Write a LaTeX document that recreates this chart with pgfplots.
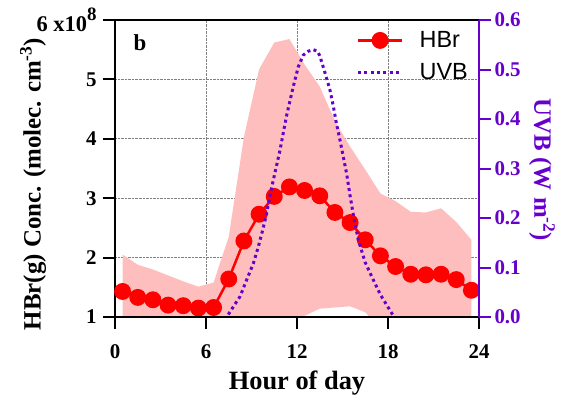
\documentclass[border=0pt]{standalone}
\usepackage{fontspec}
\setmainfont{Liberation Serif}
\newfontfamily\arialfont{Liberation Sans}
\usepackage{pgfplots}
\pgfplotsset{compat=1.18}
\usepackage{pgfplotstable}

\definecolor{uvbcol}{RGB}{102,0,204}
\definecolor{bandcol}{RGB}{255,190,190}

% hourly mean HBr (1e8 molec cm-3)
\pgfplotstableread{
hour hbr
0.5 1.43
1.5 1.33
2.5 1.29
3.5 1.20
4.5 1.19
5.5 1.15
6.5 1.16
7.5 1.64
8.5 2.28
9.5 2.73
10.5 3.03
11.5 3.19
12.5 3.13
13.5 3.04
14.5 2.76
15.5 2.59
16.5 2.30
17.5 2.03
18.5 1.85
19.5 1.72
20.5 1.71
21.5 1.72
22.5 1.63
23.5 1.45
}\hbrdata

% spread: upper edge forward, lower edge back
\pgfplotstableread{
hour v
0.5 2.05
1.5 1.88
2.5 1.80
3.5 1.70
4.5 1.60
5.5 1.51
6.5 1.58
7.5 2.35
8.5 4.03
9.5 5.17
10.5 5.62
11.5 5.68
12.5 5.25
13.5 4.88
14.5 4.30
15.5 3.87
16.5 3.48
17.5 3.08
18.5 2.95
19.5 2.77
20.5 2.76
21.5 2.83
22.5 2.60
23.5 2.30
23.5 0.80
22.5 0.80
21.5 0.80
20.5 0.80
19.5 0.80
18.5 0.80
17.5 0.80
16.5 1.08
15.5 1.18
14.5 1.16
13.5 1.14
12.5 1.02
11.5 0.80
10.5 0.80
9.5 0.80
8.5 0.80
7.5 0.80
6.5 0.80
5.5 0.80
4.5 0.80
3.5 0.80
2.5 0.80
1.5 0.80
0.5 0.80
}\banddata

% UVB (W m-2)
\pgfplotstableread{
hour uvb
7.47 0.005
8.00 0.030
8.24 0.041
8.68 0.075
9.12 0.108
9.45 0.142
9.74 0.176
10.00 0.209
10.20 0.243
10.44 0.277
10.88 0.337
11.30 0.405
11.75 0.465
12.08 0.505
12.41 0.529
12.75 0.537
13.07 0.540
13.35 0.537
13.50 0.528
13.84 0.494
14.17 0.459
14.40 0.425
14.60 0.391
14.83 0.358
15.05 0.324
15.27 0.290
15.50 0.245
15.75 0.200
16.04 0.156
16.50 0.110
17.03 0.075
17.50 0.045
18.00 0.020
18.30 0.005
}\uvbdata

\pgfplotsset{
  common/.style={
    scale only axis, width=364bp, height=297bp,
    xmin=0, xmax=24,
    axis line style={line width=2.5bp},
    tick align=outside, major tick length=12bp,
    tick style={line width=2bp},
    tick label style={font=\fontsize{21}{24}\selectfont\bfseries},
    /pgf/number format/assume math mode=true,
    label style={font=\fontsize{26.5}{30}\selectfont\bfseries},
  }
}

\begin{document}
\begin{tikzpicture}
\begin{axis}[common, name=main,
  ymin=1, ymax=6,
  axis x line*=bottom, axis y line*=left,
  xtick={0,6,12,18,24}, xticklabels={0,6,12,18,24},
  xticklabel style={yshift=-12bp},
  ytick={1,2,3,4,5,6},
  yticklabels={1,2,3,4,5,{\fontsize{22.5}{24}\selectfont 6 x10\raisebox{0.5em}{\fontsize{19}{20}\selectfont 8}}},
  yticklabel style={xshift=-3bp},
  tick style={black},
  grid=major,
  major grid style={densely dotted, gray, line width=0.7bp},
  xlabel={Hour of day},
  xlabel style={at={(axis description cs:0.5,-0.222)}, anchor=center},
  ylabel={HBr(g) Conc. (molec. cm\textsuperscript{-3})},
  ylabel style={at={(axis description cs:-0.225,0.448)}, anchor=center,
    font=\fontsize{25}{30}\selectfont\bfseries},
]
\addplot[fill=bandcol, draw=none, forget plot] table[x=hour, y=v] {\banddata};
\addplot[red, line width=2.5bp, mark=*, mark size=7.2bp,
  mark options={fill=red, draw=red, solid}] table[x=hour, y=hbr] {\hbrdata};
\node[font=\fontsize{23}{27}\selectfont\bfseries] at (rel axis cs:0.069,0.923) {b};
\end{axis}

\begin{axis}[common,
  ymin=0, ymax=0.6,
  axis x line*=box, axis y line*=right,
  xtick=\empty,
  x axis line style={black},
  y axis line style={uvbcol},
  ytick={0,0.1,0.2,0.3,0.4,0.5,0.6},
  yticklabels={0.0,0.1,0.2,0.3,0.4,0.5,0.6},
  ytick style={uvbcol},
  yticklabel style={text=uvbcol},
  ylabel={UVB (W m\textsuperscript{-2})},
  ylabel style={text=uvbcol, rotate=180, at={(axis description cs:1.173,0.495)}, anchor=center,
    font=\fontsize{25}{30}\selectfont\bfseries},
  legend style={at={(axis description cs:0.655,0.975)}, anchor=north west,
    draw=none, fill=none, font=\arialfont\fontsize{23.5}{26}\selectfont,
    row sep=10bp, /tikz/every odd column/.append style={column sep=14bp}},
  legend cell align=left,
  legend image code/.code={
    \draw[mark repeat=2, mark phase=2] plot coordinates {(0bp,0bp) (22bp,0bp) (44bp,0bp)};},
]
\addlegendimage{red, line width=2.5bp, mark=*, mark size=7.2bp, mark options={fill=red, draw=red, solid}}
\addlegendentry{HBr}
\addplot[uvbcol, line width=3bp, dash pattern=on 3bp off 3.3bp] table[x=hour, y=uvb] {\uvbdata};
\addlegendentry{UVB}
\end{axis}

\path (main.south west) ++(-115bp,-87bp) rectangle ++(570bp,404bp);
\end{tikzpicture}
\end{document}
